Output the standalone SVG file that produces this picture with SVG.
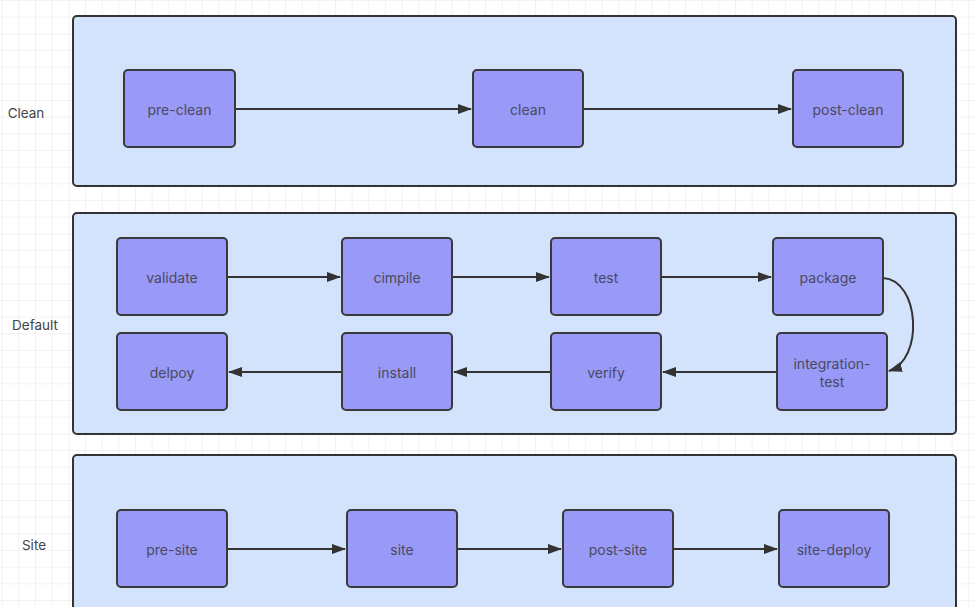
<svg xmlns="http://www.w3.org/2000/svg" width="975" height="607" viewBox="0 0 975 607">
<defs>
<pattern id="grid" x="1.67" y="0" width="16.667" height="16.667" patternUnits="userSpaceOnUse">
<path d="M0,0 H16.667 M0,0 V16.667" fill="none" stroke="#e8e8e8" stroke-width="1"/>
</pattern>
<marker id="arr" viewBox="0 0 14 10" refX="13" refY="5" markerWidth="14" markerHeight="10" markerUnits="userSpaceOnUse" orient="auto">
<path d="M0,0 L14,5 L0,10 Z" fill="#333"/>
</marker>
<style>
.lane{fill:#d2e3fb;stroke:#333;stroke-width:2}
.node rect{fill:#9999f8;stroke:#3a3a3a;stroke-width:2}
.node text,.lbl{font-family:Inter,"Liberation Sans",sans-serif;font-size:14px;fill:#4a4a5e;text-anchor:middle;dominant-baseline:central}
.lbl{fill:#444;font-size:13.5px}
.conn path{fill:none;stroke:#333;stroke-width:2;marker-end:url(#arr)}
</style>
</defs>
<rect width="975" height="607" fill="#fff"/>
<rect width="975" height="607" fill="url(#grid)"/>

<g id="lanes">
<rect class="lane" x="73" y="16" width="883" height="170" rx="4"/>
<rect class="lane" x="73" y="213" width="883" height="221" rx="4"/>
<rect class="lane" x="73" y="455" width="883" height="170" rx="4"/>
</g>
<text class="lbl" x="26" y="113">Clean</text>
<text class="lbl" x="35" y="325">Default</text>
<text class="lbl" x="34" y="545">Site</text>

<g class="conn" id="connectors">
<path d="M235,109 H471"/>
<path d="M583,109 H791"/>
<path d="M227,277 H340"/>
<path d="M452,277 H549"/>
<path d="M661,277 H771"/>
<path d="M883,278 C920,280 924,360 889,371"/>
<path d="M777,372 H663"/>
<path d="M551,372 H454"/>
<path d="M342,372 H229"/>
<path d="M227,549 H345"/>
<path d="M457,549 H561"/>
<path d="M673,549 H777"/>
</g>

<g id="pre-clean" class="node"><rect x="124" y="70" width="111" height="77" rx="4"/><text x="179.5" y="109">pre-clean</text></g>
<g id="clean" class="node"><rect x="473" y="70" width="110" height="77" rx="4"/><text x="528" y="109">clean</text></g>
<g id="post-clean" class="node"><rect x="793" y="70" width="110" height="77" rx="4"/><text x="848" y="109">post-clean</text></g>

<g id="validate" class="node"><rect x="117" y="238" width="110" height="77" rx="4"/><text x="172" y="277">validate</text></g>
<g id="cimpile" class="node"><rect x="342" y="238" width="110" height="77" rx="4"/><text x="397" y="277">cimpile</text></g>
<g id="test" class="node"><rect x="551" y="238" width="110" height="77" rx="4"/><text x="606" y="277">test</text></g>
<g id="package" class="node"><rect x="773" y="238" width="110" height="77" rx="4"/><text x="828" y="277">package</text></g>

<g id="delpoy" class="node"><rect x="117" y="333" width="110" height="77" rx="4"/><text x="172" y="372">delpoy</text></g>
<g id="install" class="node"><rect x="342" y="333" width="110" height="77" rx="4"/><text x="397" y="372">install</text></g>
<g id="verify" class="node"><rect x="551" y="333" width="110" height="77" rx="4"/><text x="606" y="372">verify</text></g>
<g id="integration-test" class="node"><rect x="777" y="333" width="110" height="77" rx="4"/><text x="832" y="363">integration-</text><text x="832" y="381">test</text></g>

<g id="pre-site" class="node"><rect x="117" y="510" width="110" height="77" rx="4"/><text x="172" y="549">pre-site</text></g>
<g id="site" class="node"><rect x="347" y="510" width="110" height="77" rx="4"/><text x="402" y="549">site</text></g>
<g id="post-site" class="node"><rect x="563" y="510" width="110" height="77" rx="4"/><text x="618" y="549">post-site</text></g>
<g id="site-deploy" class="node"><rect x="779" y="510" width="110" height="77" rx="4"/><text x="834" y="549">site-deploy</text></g>
</svg>
